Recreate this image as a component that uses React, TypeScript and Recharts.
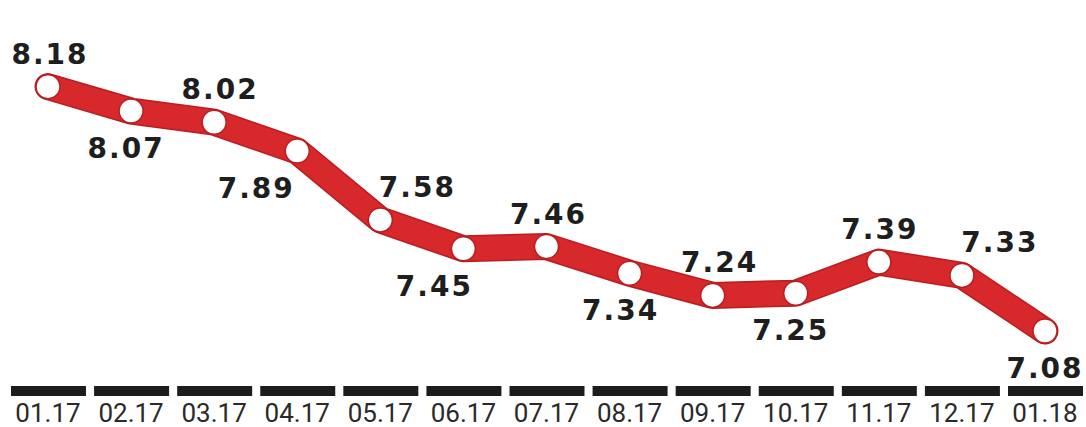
import { LineChart, Line, XAxis, YAxis } from "recharts";

// ── Data ─────────────────────────────────────────────────────────────────────

const months = [
  "01.17", "02.17", "03.17", "04.17", "05.17", "06.17", "07.17",
  "08.17", "09.17", "10.17", "11.17", "12.17", "01.18",
];

const rates = [8.18, 8.07, 8.02, 7.89, 7.58, 7.45, 7.46, 7.34, 7.24, 7.25, 7.39, 7.33, 7.08];

const data = months.map((m, i) => ({ month: m, rate: rates[i] }));

// label placement per point: above or below the line, horizontal nudge
const labelPlacement: { above: boolean; dx: number }[] = [
  { above: true, dx: 2 },
  { above: false, dx: -5 },
  { above: true, dx: 6 },
  { above: false, dx: -41 },
  { above: true, dx: 37 },
  { above: false, dx: -29 },
  { above: true, dx: 2 },
  { above: false, dx: -9 },
  { above: true, dx: 7 },
  { above: false, dx: -5 },
  { above: true, dx: 1 },
  { above: true, dx: 38 },
  { above: false, dx: 0 },
];

const RED = "#d7282b";
const RED_EDGE = "#b91d20";

// ── Components ────────────────────────────────────────────────────────────────

function ValueLabel(props: any) {
  const { x, y, index, value } = props;
  const p = labelPlacement[index];
  const ty = p.above ? y - 23 : y + 47;
  return (
    <text
      x={x + p.dx}
      y={ty}
      textAnchor="middle"
      fontFamily="DejaVu Sans"
      fontWeight="bold"
      fontSize={28}
      letterSpacing={2}
      fill="#1e1e1e"
    >
      {value.toFixed(2)}
    </text>
  );
}

function MonthTick(props: any) {
  const { x, y, payload } = props;
  return (
    <g>
      <rect x={x - 37} y={y - 4} width={75} height={10} fill="#1c1c1c" />
      <text
        x={x}
        y={y + 32}
        textAnchor="middle"
        fontFamily="Roboto"
        fontSize={26}
        fill="#2a2a2a"
      >
        {payload.value}
      </text>
    </g>
  );
}

function Dot(props: any) {
  const { cx, cy } = props;
  return <circle cx={cx} cy={cy} r={12} fill="#ffffff" stroke={RED_EDGE} strokeWidth={1.5} />;
}

export default function App() {
  return (
    <div style={{ position: "absolute", left: 0, top: 0, background: "#fff" }}>
      <LineChart
        width={1086}
        height={427}
        data={data}
        margin={{ top: 60, right: 0, left: 8, bottom: 0 }}
      >
        <XAxis
          dataKey="month"
          axisLine={false}
          tickLine={false}
          interval={0}
          tick={<MonthTick />}
          height={45}
          padding={{ left: 40, right: 41 }}
        />
        <YAxis hide domain={[6.85, 8.3]} />
        <Line
          dataKey="rate"
          stroke={RED_EDGE}
          strokeWidth={27}
          strokeLinejoin="round"
          strokeLinecap="round"
          dot={false}
          activeDot={false}
          isAnimationActive={false}
        />
        <Line
          dataKey="rate"
          stroke={RED}
          strokeWidth={24}
          strokeLinejoin="round"
          strokeLinecap="round"
          dot={<Dot />}
          activeDot={false}
          label={<ValueLabel />}
          isAnimationActive={false}
        />
      </LineChart>
    </div>
  );
}
